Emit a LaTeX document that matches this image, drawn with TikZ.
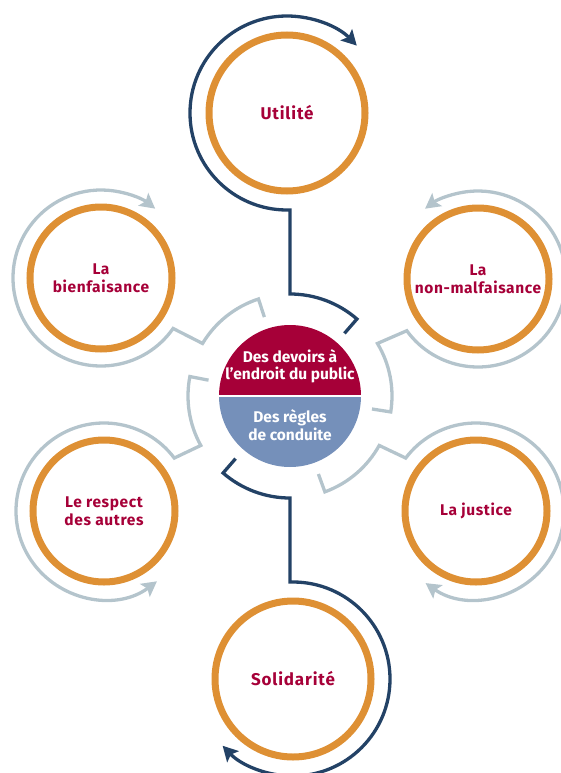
\documentclass[tikz,border=0pt]{standalone}
\usepackage{fontspec}
\setmainfont{Fira Sans}
\usepackage{xcolor}
\definecolor{Col1}{RGB}{222,144,52}
\definecolor{Col2}{RGB}{35,66,102}
\definecolor{Col3}{RGB}{180,196,204}
\definecolor{Col4}{RGB}{166,0,56}
\definecolor{Col5}{RGB}{117,144,186}
\usetikzlibrary{arrows.meta}
\tikzstyle{Circle}=[circle,draw=Col1,line width=7pt,inner sep=0pt,align=center,
text=Col4,font=\bfseries\fontsize{15.5}{18}\selectfont\addfontfeatures{LetterSpace=4}]
\tikzstyle{Big}=[Circle,minimum size=156pt,font=\bfseries\fontsize{17}{20}\selectfont\addfontfeatures{LetterSpace=5}]
\tikzstyle{Small}=[Circle,minimum size=142pt]
\tikzstyle{Dark}=[draw=Col2,line width=3.3pt]
\tikzstyle{Light}=[draw=Col3,line width=3.3pt]
\tikzstyle{Tip}=[-{Stealth[length=15pt,width=16pt,inset=3pt]}]
\tikzstyle{Inner}=[text=white,align=center,font=\bfseries\fontsize{15.5}{17.5}\selectfont]

\begin{document}
\begin{tikzpicture}[x=1pt,y=1pt]
    \useasboundingbox(0,0)rectangle(561,-773);
    \node(C)at(290,-396){};
    \node[Big](U)at(287,-113){Utilité};
    \node[Big](S)at(293,-679){Solidarité};
    \node[Small](B)at(101,-278){La\\bienfaisance};
    \node[Small](N)at(478,-279){La\\non-malfaisance};
    \node[Small](R)at(104,-511){Le respect\\des autres};
    \node[Small](J)at(476,-511){La justice};
    \fill[Col4]([shift={(0:71)}]C.center)arc[start angle=0,end angle=180,radius=71]--cycle;
    \fill[Col5]([shift={(180:71)}]C.center)arc[start angle=180,end angle=360,radius=71]--cycle;
    \draw[white,line width=2pt]([shift={(180:72)}]C.center)--([shift={(0:72)}]C.center);
    \node[Inner](D)at(290,-366){Des devoirs à\\l’endroit du public};
    \node[Inner](K)at(290,-425){Des règles\\de conduite};
    \draw[Dark,Tip]([shift={(49:83)}]C.center)--([shift={(49:102)}]C.center)
        arc[start angle=49,end angle=90,radius=102]|-([shift={(270:97)}]U.center)
        arc[start angle=270,end angle=44,radius=97];
    \draw[Dark,Tip]([shift={(229:83)}]C.center)--([shift={(229:102)}]C.center)
        arc[start angle=229,end angle=270,radius=102]|-([shift={(90:97)}]S.center)
        arc[start angle=90,end angle=-136.5,radius=97];
    \draw[Light,Tip]([shift={(108:83)}]C.center)--([shift={(108:102)}]C.center)
        arc[start angle=108,end angle=149,radius=102]--([shift={(-35:88)}]B.center)
        arc[start angle=-35,end angle=-308,radius=88];
    \draw[Light,Tip]([shift={(-9:83)}]C.center)--([shift={(-9:102)}]C.center)
        arc[start angle=-9,end angle=31,radius=102]--([shift={(216:88)}]N.center)
        arc[start angle=216,end angle=487,radius=88];
    \draw[Light,Tip]([shift={(169:83)}]C.center)--([shift={(169:102)}]C.center)
        arc[start angle=169,end angle=209,radius=102]--([shift={(37:88)}]R.center)
        arc[start angle=37,end angle=307,radius=88];
    \draw[Light,Tip]([shift={(290:83)}]C.center)--([shift={(290:102)}]C.center)
        arc[start angle=290,end angle=331,radius=102]--([shift={(143:88)}]J.center)
        arc[start angle=143,end angle=-125,radius=88];
\end{tikzpicture}
\end{document}
